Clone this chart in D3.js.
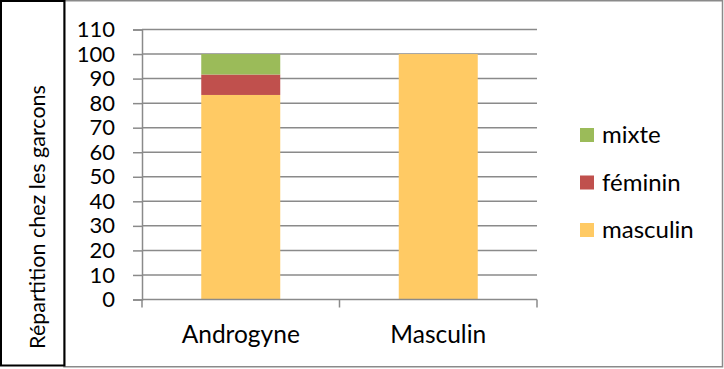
<!DOCTYPE html>
<html>
<head>
<meta charset="utf-8">
<script src="https://cdn.jsdelivr.net/npm/d3@7"></script>
<style>
  html, body { margin: 0; padding: 0; background: #fff; }
  svg { display: block; }
  text { font-family: Lato, "Noto Sans", sans-serif; fill: #000; }
</style>
</head>
<body>
<div id="chart"></div>
<script>
// Répartition des styles chez les garçons, par profil
const categories = ["Androgyne", "Masculin"];
const seriesNames = ["masculin", "féminin", "mixte"];
const masculin = [83.33, 100];
const feminin = [8.33, 0];
const mixte = [8.34, 0];
const yTicks = [0, 10, 20, 30, 40, 50, 60, 70, 80, 90, 100, 110];
const colors = ["#FFCA64", "#C0504D", "#9BBB59"];
const yTitle = "Répartition chez les garcons";

const W = 724, H = 369;
const svg = d3.select("#chart").append("svg").attr("width", W).attr("height", H);

// outer frame of the chart area
svg.append("rect").attr("x", 64).attr("y", 0.75).attr("width", W - 65.5).attr("height", 366)
  .attr("fill", "none").attr("stroke", "#8a8a8a").attr("stroke-width", 1.5);
// boxed title on the left
svg.append("rect").attr("x", 1).attr("y", 1).attr("width", 63.5).attr("height", 364.5)
  .attr("fill", "none").attr("stroke", "#000").attr("stroke-width", 2);

const x0 = 142, x1 = 537, yTop = 29.5, yBot = 299.5;
const x = d3.scaleBand().domain(categories).range([x0, x1]).paddingInner(0).paddingOuter(0);
const y = d3.scaleLinear().domain([0, 110]).range([yBot, yTop]);

// horizontal gridlines
svg.append("g").selectAll("line").data(yTicks.filter(t => t > 0)).join("line")
  .attr("x1", x0).attr("x2", x1)
  .attr("y1", d => y(d)).attr("y2", d => y(d))
  .attr("stroke", "#8a8a8a").attr("stroke-width", 1.5);

// stacked bars
const rows = categories.map((c, i) => ({ cat: c, masculin: masculin[i], "féminin": feminin[i], mixte: mixte[i] }));
const stack = d3.stack().keys(seriesNames)(rows);
const barW = x.bandwidth() * 0.4;
svg.append("g").selectAll("g").data(stack).join("g")
  .attr("fill", (d, i) => colors[i])
  .selectAll("rect").data(d => d).join("rect")
  .attr("x", d => x(d.data.cat) + (x.bandwidth() - barW) / 2)
  .attr("width", barW)
  .attr("y", d => y(d[1]))
  .attr("height", d => y(d[0]) - y(d[1]));

// y axis
const yAxis = d3.axisLeft(y).tickValues(yTicks).tickSize(9).tickPadding(18);
const gy = svg.append("g").attr("transform", `translate(${x0},0)`).call(yAxis);
gy.select(".domain").attr("stroke", "#8a8a8a").attr("stroke-width", 1.5);
gy.selectAll(".tick line").attr("stroke", "#8a8a8a").attr("stroke-width", 1.5);
gy.selectAll(".tick text").style("font-family", "Lato, sans-serif").style("font-size", "22px").attr("fill", "#000");

// x axis
const xAxis = d3.axisBottom(x).tickSize(0).tickPadding(26);
const gx = svg.append("g").attr("transform", `translate(0,${yBot})`).call(xAxis);
gx.select(".domain").remove();
gx.append("line").attr("x1", x0).attr("x2", x1).attr("y1", 0).attr("y2", 0)
  .attr("stroke", "#8a8a8a").attr("stroke-width", 1.5);
gx.selectAll(".sep").data([x0, x0 + x.bandwidth(), x1]).join("line").attr("class", "sep")
  .attr("x1", d => d).attr("x2", d => d).attr("y1", 0).attr("y2", 8)
  .attr("stroke", "#8a8a8a").attr("stroke-width", 1.5);
gx.selectAll(".tick text").style("font-family", "Lato, sans-serif").style("font-size", "24.5px").attr("fill", "#000");

// y title
svg.append("text").attr("transform", "translate(44.5,217) rotate(-90)")
  .attr("text-anchor", "middle").style("font-size", "21.5px").text(yTitle);

// legend (top entry is the last series)
const legendOrder = seriesNames.map((n, i) => ({ name: n, color: colors[i] })).reverse();
const lg = svg.append("g").selectAll("g").data(legendOrder).join("g")
  .attr("transform", (d, i) => `translate(580,${128 + i * 47.5})`);
lg.append("rect").attr("width", 14).attr("height", 14).attr("fill", d => d.color);
lg.append("text").attr("x", 22).attr("y", 15).style("font-size", "24px").text(d => d.name);
</script>
</body>
</html>
